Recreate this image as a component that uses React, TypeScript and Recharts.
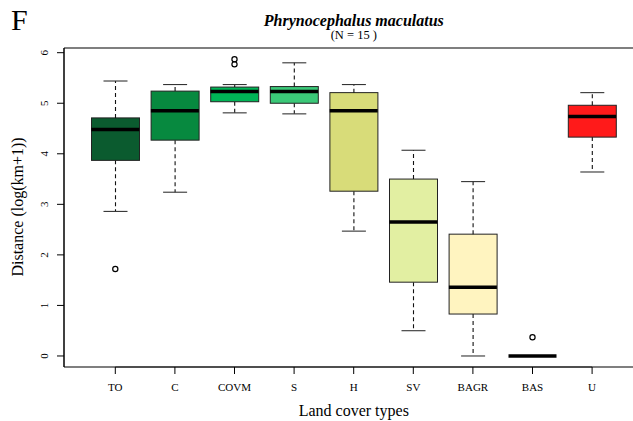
import { ComposedChart, Bar, Scatter, XAxis, YAxis, ReferenceLine } from "recharts";

const categories = ["TO", "C", "COVM", "S", "H", "SV", "BAGR", "BAS", "U"];
const lowerWhisker = [2.86, 3.24, 4.81, 4.79, 2.47, 0.5, 0.0, 0.0, 3.64];
const q1 = [3.87, 4.27, 5.03, 5.0, 3.26, 1.46, 0.83, 0.0, 4.33];
const median = [4.48, 4.85, 5.23, 5.23, 4.85, 2.65, 1.36, 0.0, 4.74];
const q3 = [4.71, 5.24, 5.32, 5.33, 5.21, 3.5, 2.41, 0.0, 4.96];
const upperWhisker = [5.44, 5.37, 5.37, 5.8, 5.37, 4.07, 3.45, 0.0, 5.21];
const boxColors = ["#0b5b2f", "#07893f", "#00b456", "#3bc878", "#d8dc79", "#e2efa2", "#fff4c0", "#ffffff", "#ff1a1a"];

const outlierCats = ["TO", "COVM", "COVM", "BAS"];
const outlierValues = [1.72, 5.87, 5.77, 0.37];

const yTicks = [0, 1, 2, 3, 4, 5, 6];

const rows = categories.map((cat, i) => ({
  cat,
  base: lowerWhisker[i],
  lowW: q1[i] - lowerWhisker[i],
  box: q3[i] - q1[i],
  upW: upperWhisker[i] - q3[i],
  median: median[i],
  boxColor: boxColors[i],
}));

const outlierRows = outlierCats.map((cat, i) => ({ cat, value: outlierValues[i] }));

const BOX_W = 48;
const CAP_W = 24;
const SERIF = "'Liberation Serif', 'DejaVu Serif', serif";

const Empty = () => <g />;

const LowerWhisker = (props: any) => {
  const { x, y, width, height } = props;
  const cx = x + width / 2;
  return (
    <g>
      <line x1={cx} y1={y} x2={cx} y2={y + height} stroke="#111" strokeWidth={1.1} strokeDasharray="4 3" />
      <line x1={cx - CAP_W / 2} y1={y + height} x2={cx + CAP_W / 2} y2={y + height} stroke="#333" strokeWidth={1.1} />
    </g>
  );
};

const UpperWhisker = (props: any) => {
  const { x, y, width, height } = props;
  const cx = x + width / 2;
  return (
    <g>
      <line x1={cx} y1={y + height} x2={cx} y2={y} stroke="#111" strokeWidth={1.1} strokeDasharray="4 3" />
      <line x1={cx - CAP_W / 2} y1={y} x2={cx + CAP_W / 2} y2={y} stroke="#333" strokeWidth={1.1} />
    </g>
  );
};

const BoxShape = (props: any) => {
  const { x, y, width, height, payload } = props;
  return <rect x={x} y={y} width={width} height={height} fill={payload.boxColor} stroke="#222" strokeWidth={1} />;
};

const MedianShape = (props: any) => {
  const { cx, cy } = props;
  return <line x1={cx - BOX_W / 2} y1={cy} x2={cx + BOX_W / 2} y2={cy} stroke="#000" strokeWidth={3.5} />;
};

const OutlierShape = (props: any) => {
  const { cx, cy } = props;
  return <circle cx={cx} cy={cy} r={2.6} fill="none" stroke="#000" strokeWidth={1.2} />;
};

const YTick = (props: any) => {
  const { x, y, payload } = props;
  const tx = x - 6.5;
  return (
    <text x={tx} y={y} transform={`rotate(-90 ${tx} ${y})`} textAnchor="middle" fontSize={11} fontFamily={SERIF} fill="#000">
      {payload.value}
    </text>
  );
};

export default function App() {
  return (
    <div style={{ position: "absolute", left: 0, top: 0, width: 633, height: 421, background: "#fff" }}>
      <ComposedChart
        width={633}
        height={421}
        data={rows}
        margin={{ top: 48, right: 0, bottom: 24, left: 24 }}
      >
        <XAxis
          dataKey="cat"
          type="category"
          allowDuplicatedCategory={false}
          padding={{ left: 21.5, right: 11.1 }}
          height={30}
          tickSize={7}
          tickMargin={9}
          axisLine={{ stroke: "#555", strokeWidth: 1.5 }}
          tickLine={{ stroke: "#000" }}
          tick={{ fontSize: 11, fontFamily: SERIF, fill: "#000" }}
          interval={0}
        />
        <YAxis
          type="number"
          domain={[-0.218, 6.093]}
          allowDataOverflow
          ticks={yTicks}
          width={40}
          tickSize={7}
          tickMargin={2}
          axisLine={{ stroke: "#000", strokeWidth: 1.5 }}
          tickLine={{ stroke: "#000" }}
          tick={<YTick />}
        />
        <ReferenceLine y={6.093} ifOverflow="visible" stroke="#555" strokeWidth={1.5} />
        <ReferenceLine
          segment={[{ x: "TO", y: -0.218 }, { x: "U", y: -0.218 }]}
          ifOverflow="visible"
          stroke="#000"
          strokeWidth={1.5}
        />
        <Bar dataKey="base" stackId="b" barSize={BOX_W} shape={Empty} isAnimationActive={false} />
        <Bar dataKey="lowW" stackId="b" barSize={BOX_W} shape={LowerWhisker} isAnimationActive={false} />
        <Bar dataKey="box" stackId="b" barSize={BOX_W} shape={BoxShape} isAnimationActive={false} />
        <Bar dataKey="upW" stackId="b" barSize={BOX_W} shape={UpperWhisker} isAnimationActive={false} />
        <Scatter dataKey="median" shape={MedianShape} isAnimationActive={false} />
        <Scatter data={outlierRows} dataKey="value" shape={OutlierShape} isAnimationActive={false} />
      </ComposedChart>
      <svg width={633} height={421} style={{ position: "absolute", left: 0, top: 0, pointerEvents: "none" }}>
        <text x={11} y={30} fontSize={30} fontFamily={SERIF} fill="#000">F</text>
        <text x={353.8} y={25.5} textAnchor="middle" fontSize={16} fontWeight="bold" fontStyle="italic" fontFamily={SERIF} fill="#000">
          Phrynocephalus maculatus
        </text>
        <text x={353.8} y={39} textAnchor="middle" fontSize={12.5} fontFamily={SERIF} fill="#000">
          (N = 15 )
        </text>
        <text x={353.8} y={416} textAnchor="middle" fontSize={16} fontFamily={SERIF} fill="#000">
          Land cover types
        </text>
        <text x={23} y={207} transform="rotate(-90 23 207)" textAnchor="middle" fontSize={16} fontFamily={SERIF} fill="#000">
          Distance (log(km+1))
        </text>
      </svg>
    </div>
  );
}
